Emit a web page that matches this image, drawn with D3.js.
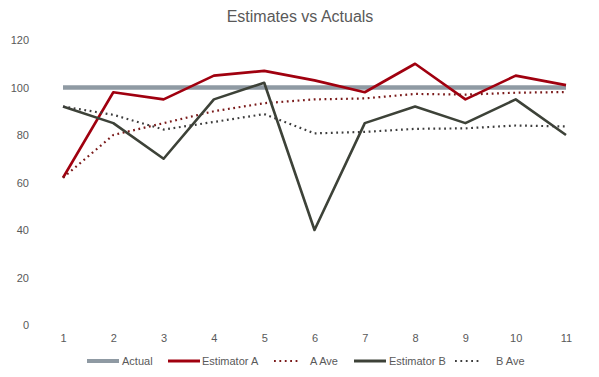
<!DOCTYPE html>
<html><head><meta charset="utf-8">
<script src="https://cdn.jsdelivr.net/npm/d3@7"></script>
<style>body{margin:0;background:#fff;}text{font-family:"Liberation Sans",Arial,sans-serif;}</style>
</head><body><svg id="c" width="599" height="377"></svg>
<script>
const categories = [1,2,3,4,5,6,7,8,9,10,11];
const actual = [100,100,100,100,100,100,100,100,100,100,100];
const estimatorA = [62,98,95,105,107,103,98,110,95,105,101];
const aAve = [62,80,85,90,93.4,95,95.4,97.3,97,97.8,98.1];
const estimatorB = [92,85,70,95,102,40,85,92,85,95,80];
const bAve = [92,88.5,82.3,85.5,88.8,80.7,81.3,82.6,82.8,84,83.6];
const yTicks = [0,20,40,60,80,100,120];
const title = "Estimates vs Actuals";

const series = [
  {name:"Actual", values:actual, color:"#8f9aa3", width:4.5, dash:null},
  {name:"Estimator A", values:estimatorA, color:"#a0000f", width:2.6, dash:null},
  {name:"A Ave", values:aAve, color:"#7a1a1a", width:2.2, dash:"1.8,3.6"},
  {name:"Estimator B", values:estimatorB, color:"#3d4238", width:2.6, dash:null},
  {name:"B Ave", values:bAve, color:"#3d3d3d", width:2.2, dash:"1.8,3.6"}
];

const svg = d3.select("#c");
const x = d3.scalePoint().domain(categories).range([63,566]);
const y = d3.scaleLinear().domain([0,120]).range([325,40]);

svg.append("text").attr("x",300).attr("y",22).attr("text-anchor","middle")
  .attr("font-size",16).attr("fill","#595959").text(title);

const yAxis = svg.append("g").attr("transform","translate(29,0)")
  .call(d3.axisLeft(y).tickValues(yTicks).tickSize(0).tickPadding(0));
yAxis.select(".domain").remove();
yAxis.selectAll("text").attr("font-size",11).attr("fill","#595959").attr("font-family","Liberation Sans, Arial, sans-serif");

const xAxis = svg.append("g").attr("transform","translate(0,334)")
  .call(d3.axisBottom(x).tickSize(0).tickPadding(0));
xAxis.select(".domain").remove();
xAxis.selectAll("text").attr("font-size",11).attr("fill","#595959").attr("font-family","Liberation Sans, Arial, sans-serif");

const line = d3.line().x((d,i)=>x(categories[i])).y(d=>y(d));
series.forEach(s=>{
  svg.append("path").datum(s.values).attr("d",line).attr("fill","none")
    .attr("stroke",s.color).attr("stroke-width",s.width)
    .attr("stroke-dasharray",s.dash).attr("stroke-linejoin","round");
});

// legend
const legendPos = [{lx:87,tx:122},{lx:168,tx:202},{lx:274,tx:310},{lx:354,tx:389},{lx:455,tx:496}];
const lg = svg.append("g");
series.forEach((s,i)=>{
  const p = legendPos[i];
  lg.append("line").attr("x1",p.lx).attr("x2",p.lx+(s.dash?26:32)).attr("y1",361).attr("y2",361)
    .attr("stroke",s.color).attr("stroke-width",s.dash?2.2:(i===0?4:3)).attr("stroke-dasharray",s.dash);
  lg.append("text").attr("x",p.tx).attr("y",365).attr("font-size",11).attr("fill","#595959").text(s.name);
});
</script></body></html>
